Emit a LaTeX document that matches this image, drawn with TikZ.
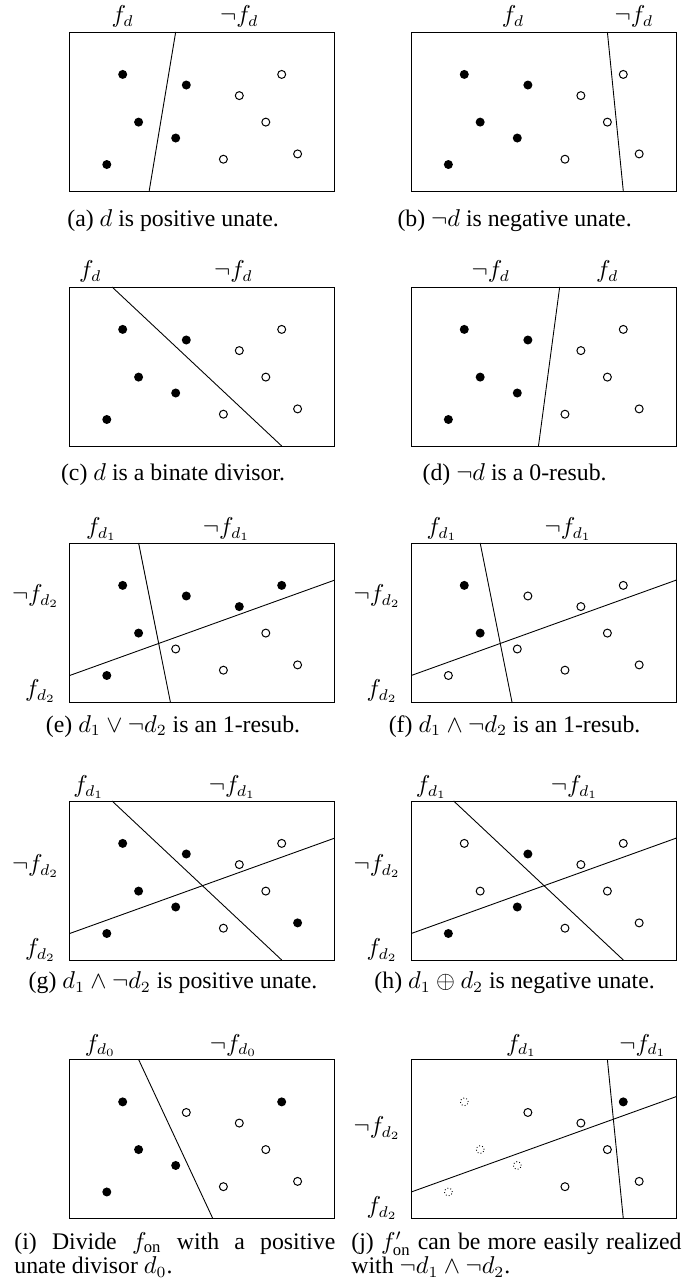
\documentclass[tikz,border=0pt]{standalone}
\usepackage{amsmath}
\usepackage{fontspec}
\setmainfont{Liberation Serif}
\usepackage{tikz}

\begin{document}
\begin{tikzpicture}[x=23.85pt, y=23.85pt,
  fullpt/.style={fill=black},
  hollowpt/.style={draw=black, fill=white, line width=0.45pt},
  faintpt/.style={draw=black, densely dotted, line width=0.4pt},
  lbl/.style={anchor=base, inner sep=0pt, font=\fontsize{10.5}{12}\selectfont},
  llbl/.style={anchor=base east, inner sep=0pt, font=\fontsize{10.5}{12}\selectfont},
  captxt/.style={anchor=base, inner sep=0pt, font=\fontsize{10.7}{11}\selectfont}]
  \useasboundingbox (0,0) rectangle (13.189,-24.302);

  % (a)
  \begin{scope}[shift={(1.315,-3.604)}]
    \draw (0,0) rectangle (5,3);
    \draw (1.5,0) -- (2.0,3);
    \foreach \x/\y in {1.0/2.2, 1.3/1.3, 0.7/0.5, 2.2/2.0, 2.0/1.0}
      \fill[fullpt] (\x,\y) circle (0.085);
    \foreach \x/\y in {4.0/2.2, 3.2/1.8, 3.7/1.3, 2.9/0.6, 4.3/0.7}
      \draw[hollowpt] (\x,\y) circle (0.075);
    \node[lbl] (fa) at (1.0,3.18) {$f_d$};
    \node[lbl] (nfa) at (3.2,3.18) {$\neg f_d$};
    \node[captxt] (capa) at (1.95,-0.66) {(a) $d$ is positive unate.};
  \end{scope}

  % (b)
  \begin{scope}[shift={(7.76,-3.604)}]
    \draw (0,0) rectangle (5,3);
    \draw (4.0,0) -- (3.7,3);
    \foreach \x/\y in {1.0/2.2, 1.3/1.3, 0.7/0.5, 2.2/2.0, 2.0/1.0}
      \fill[fullpt] (\x,\y) circle (0.085);
    \foreach \x/\y in {4.0/2.2, 3.2/1.8, 3.7/1.3, 2.9/0.6, 4.3/0.7}
      \draw[hollowpt] (\x,\y) circle (0.075);
    \node[lbl] (fb) at (1.92,3.18) {$f_d$};
    \node[lbl] (nfb) at (4.2,3.18) {$\neg f_d$};
    \node[captxt] (capb) at (1.95,-0.66) {(b) $\neg d$ is negative unate.};
  \end{scope}

  % (c)
  \begin{scope}[shift={(1.315,-8.415)}]
    \draw (0,0) rectangle (5,3);
    \draw (0.8,3) -- (4.0,0);
    \foreach \x/\y in {1.0/2.2, 1.3/1.3, 0.7/0.5, 2.2/2.0, 2.0/1.0}
      \fill[fullpt] (\x,\y) circle (0.085);
    \foreach \x/\y in {4.0/2.2, 3.2/1.8, 3.7/1.3, 2.9/0.6, 4.3/0.7}
      \draw[hollowpt] (\x,\y) circle (0.075);
    \node[lbl] (fc) at (0.39,3.18) {$f_d$};
    \node[lbl] (nfc) at (3.09,3.18) {$\neg f_d$};
    \node[captxt] (capc) at (1.95,-0.66) {(c) $d$ is a binate divisor.};
  \end{scope}

  % (d)
  \begin{scope}[shift={(7.76,-8.415)}]
    \draw (0,0) rectangle (5,3);
    \draw (2.4,0) -- (2.8,3);
    \foreach \x/\y in {1.0/2.2, 1.3/1.3, 0.7/0.5, 2.2/2.0, 2.0/1.0}
      \fill[fullpt] (\x,\y) circle (0.085);
    \foreach \x/\y in {4.0/2.2, 3.2/1.8, 3.7/1.3, 2.9/0.6, 4.3/0.7}
      \draw[hollowpt] (\x,\y) circle (0.075);
    \node[lbl] (nfd) at (1.5,3.18) {$\neg f_d$};
    \node[lbl] (fd) at (3.7,3.18) {$f_d$};
    \node[captxt] (capd) at (1.95,-0.66) {(d) $\neg d$ is a 0-resub.};
  \end{scope}

  % (e)
  \begin{scope}[shift={(1.315,-13.245)}]
    \draw (0,0) rectangle (5,3);
    \draw (1.9,0) -- (1.3,3);
    \draw (0,0.5) -- (5,2.3);
    \foreach \x/\y in {1.0/2.2, 1.3/1.3, 0.7/0.5, 2.2/2.0, 3.2/1.8, 4.0/2.2}
      \fill[fullpt] (\x,\y) circle (0.085);
    \foreach \x/\y in {2.0/1.0, 3.7/1.3, 2.9/0.6, 4.3/0.7}
      \draw[hollowpt] (\x,\y) circle (0.075);
    \node[lbl] (fe) at (0.6,3.16) {$f_{d_1}$};
    \node[lbl] (nfe) at (2.96,3.16) {$\neg f_{d_1}$};
    \node[llbl] (nge) at (-0.19,1.89) {$\neg f_{d_2}$};
    \node[llbl] (ge) at (-0.25,0.10) {$f_{d_2}$};
    \node[captxt] (cape) at (1.95,-0.57) {(e) $d_1 \vee \neg d_2$ is an 1-resub.};
  \end{scope}

  % (f)
  \begin{scope}[shift={(7.76,-13.245)}]
    \draw (0,0) rectangle (5,3);
    \draw (1.9,0) -- (1.3,3);
    \draw (0,0.5) -- (5,2.3);
    \foreach \x/\y in {1.0/2.2, 1.3/1.3}
      \fill[fullpt] (\x,\y) circle (0.085);
    \foreach \x/\y in {0.7/0.5, 2.2/2.0, 2.0/1.0, 4.0/2.2, 3.2/1.8, 3.7/1.3, 2.9/0.6, 4.3/0.7}
      \draw[hollowpt] (\x,\y) circle (0.075);
    \node[lbl] (ff) at (0.58,3.16) {$f_{d_1}$};
    \node[lbl] (nff) at (2.96,3.16) {$\neg f_{d_1}$};
    \node[llbl] (ngf) at (-0.19,1.89) {$\neg f_{d_2}$};
    \node[llbl] (gf) at (-0.25,0.10) {$f_{d_2}$};
    \node[captxt] (capf) at (1.95,-0.57) {(f) $d_1 \wedge \neg d_2$ is an 1-resub.};
  \end{scope}

  % (g)
  \begin{scope}[shift={(1.315,-18.113)}]
    \draw (0,0) rectangle (5,3);
    \draw (0.8,3) -- (4.0,0);
    \draw (0,0.5) -- (5,2.3);
    \foreach \x/\y in {1.0/2.2, 1.3/1.3, 0.7/0.5, 2.2/2.0, 2.0/1.0, 4.3/0.7}
      \fill[fullpt] (\x,\y) circle (0.085);
    \foreach \x/\y in {4.0/2.2, 3.2/1.8, 3.7/1.3, 2.9/0.6}
      \draw[hollowpt] (\x,\y) circle (0.075);
    \node[lbl] (fg) at (0.36,3.16) {$f_{d_1}$};
    \node[lbl] (nfg) at (3.07,3.16) {$\neg f_{d_1}$};
    \node[llbl] (ngg) at (-0.19,1.67) {$\neg f_{d_2}$};
    \node[llbl] (gg) at (-0.25,0.08) {$f_{d_2}$};
    \node[captxt] (capg) at (1.95,-0.54) {(g) $d_1 \wedge \neg d_2$ is positive unate.};
  \end{scope}

  % (h)
  \begin{scope}[shift={(7.76,-18.113)}]
    \draw (0,0) rectangle (5,3);
    \draw (0.8,3) -- (4.0,0);
    \draw (0,0.5) -- (5,2.3);
    \foreach \x/\y in {0.7/0.5, 2.2/2.0, 2.0/1.0}
      \fill[fullpt] (\x,\y) circle (0.085);
    \foreach \x/\y in {1.0/2.2, 1.3/1.3, 4.0/2.2, 3.2/1.8, 3.7/1.3, 2.9/0.6, 4.3/0.7}
      \draw[hollowpt] (\x,\y) circle (0.075);
    \node[lbl] (fh) at (0.38,3.16) {$f_{d_1}$};
    \node[lbl] (nfh) at (3.08,3.16) {$\neg f_{d_1}$};
    \node[llbl] (ngh) at (-0.19,1.67) {$\neg f_{d_2}$};
    \node[llbl] (gh) at (-0.25,0.08) {$f_{d_2}$};
    \node[captxt] (caph) at (1.95,-0.54) {(h) $d_1 \oplus d_2$ is negative unate.};
  \end{scope}

  % (i)
  \begin{scope}[shift={(1.315,-22.99)}]
    \draw (0,0) rectangle (5,3);
    \draw (1.3,3) -- (2.7,0);
    \foreach \x/\y in {1.0/2.2, 1.3/1.3, 0.7/0.5, 2.0/1.0, 4.0/2.2}
      \fill[fullpt] (\x,\y) circle (0.085);
    \foreach \x/\y in {2.2/2.0, 3.2/1.8, 3.7/1.3, 2.9/0.6, 4.3/0.7}
      \draw[hollowpt] (\x,\y) circle (0.075);
    \node[lbl] (fi) at (0.58,3.16) {$f_{d_0}$};
    \node[lbl] (nfi) at (3.09,3.16) {$\neg f_{d_0}$};
    \node[captxt, anchor=base west, text width=144.45pt, align=justify] (capi) at (-1.051,-0.58)
      {(i) Divide $f_{\text{on}}$ with a positive\linebreak unate divisor $d_0$.};
  \end{scope}

  % (j)
  \begin{scope}[shift={(7.76,-22.99)}]
    \draw (0,0) rectangle (5,3);
    \draw (4.0,0) -- (3.7,3);
    \draw (0,0.5) -- (5,2.3);
    \foreach \x/\y in {4.0/2.2}
      \fill[fullpt] (\x,\y) circle (0.085);
    \foreach \x/\y in {2.2/2.0, 3.2/1.8, 3.7/1.3, 2.9/0.6, 4.3/0.7}
      \draw[hollowpt] (\x,\y) circle (0.075);
    \foreach \x/\y in {1.0/2.2, 1.3/1.3, 0.7/0.5, 2.0/1.0}
      \draw[faintpt] (\x,\y) circle (0.075);
    \node[lbl] (fj) at (2.08,3.16) {$f_{d_1}$};
    \node[lbl] (nfj) at (4.37,3.16) {$\neg f_{d_1}$};
    \node[llbl] (ngj) at (-0.19,1.6) {$\neg f_{d_2}$};
    \node[llbl] (gj) at (-0.25,0.09) {$f_{d_2}$};
    \node[captxt, anchor=base west, text width=148.5pt, align=justify] (capj) at (-1.137,-0.58)
      {(j) $f'_{\text{on}}$ can be more easily realized\linebreak with $\neg d_1 \wedge \neg d_2$.};
  \end{scope}
\end{tikzpicture}
\end{document}
